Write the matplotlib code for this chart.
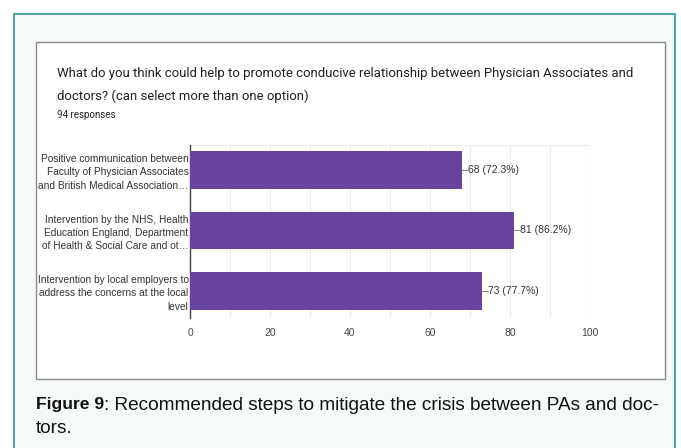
import matplotlib
matplotlib.use("Agg")
import matplotlib.pyplot as plt
from matplotlib.patches import Rectangle

categories = [
    "Positive communication between\nFaculty of Physician Associates\nand British Medical Association\u2026",
    "Intervention by the NHS, Health\nEducation England, Department\nof Health & Social Care and ot\u2026",
    "Intervention by local employers to\naddress the concerns at the local\nlevel",
]
counts = [68, 81, 73]
percents = ["72.3%", "86.2%", "77.7%"]
xticks = [0, 20, 40, 60, 80, 100]

W, H = 681, 448
fig = plt.figure(figsize=(W / 100, H / 100), dpi=100)
fig.patch.set_facecolor("white")

def px(x, y):
    return x / W, 1 - y / H

# outer teal frame
fig.patches.append(Rectangle((14 / W, -0.05), (675 - 14) / W, 1 - 14 / H + 0.05,
                             transform=fig.transFigure, facecolor="#f6fafa",
                             edgecolor="#3a9e9a", linewidth=1.3, zorder=0))
# inner white box
fig.patches.append(Rectangle((36 / W, 1 - 379 / H), (665 - 36) / W, (379 - 42) / H,
                             transform=fig.transFigure, facecolor="white",
                             edgecolor="#8a8a8a", linewidth=1.0, zorder=0.5))

fig.text(*px(57, 73), "What do you think could help to promote conducive relationship between Physician Associates and",
         fontsize=9.45, family="Roboto", color="#212121", va="center")
fig.text(*px(57, 96), "doctors? (can select more than one option)",
         fontsize=9.45, family="Roboto", color="#212121", va="center")
fig.text(*px(57, 115), "94 responses", fontsize=7, family="Roboto", color="#212121", va="center")

ax = fig.add_axes([190 / W, 1 - 318 / H, 400 / W, (318 - 145) / H])
ax.set_zorder(2)
ax.set_facecolor("none")
ypos = list(range(len(categories)))
ax.barh(ypos, counts, height=0.62, color="#6644a0", zorder=3)
ax.set_xlim(0, 100)
ax.set_ylim(2.45, -0.41)
ax.set_xticks(xticks)
ax.set_xticks(range(0, 101, 10), minor=True)
ax.set_xticklabels([str(t) for t in xticks], fontsize=7.5, family="Liberation Sans", color="#444444")
ax.tick_params(axis="x", length=0, pad=7, which="both")
ax.grid(axis="x", which="both", color="#ebebeb", linewidth=0.8, zorder=0)
ax.set_yticks(ypos)
ax.set_yticklabels(categories, fontsize=7.3, family="Liberation Sans", color="#333333", linespacing=1.4)
ax.tick_params(axis="y", length=0, pad=1)
for s in ["top", "right", "bottom"]:
    ax.spines[s].set_visible(False)
ax.spines["left"].set_color("#444444")
ax.spines["left"].set_linewidth(1.0)
ax.axhline(-0.41, color="#ebebeb", linewidth=0.8, zorder=0)

for y, c, p in zip(ypos, counts, percents):
    ax.plot([c, c + 1.6], [y, y], color="#888888", linewidth=0.7, zorder=4, clip_on=False)
    ax.text(c + 1.6, y, f"{c} ({p})", fontsize=7.5, family="Liberation Sans",
            color="#333333", va="center", ha="left")

t = fig.text(*px(36, 405), "Figure 9", fontsize=12.6, family="Liberation Sans",
             weight="bold", color="#111111", va="center")
fig.canvas.draw()
bb = t.get_window_extent()
x_end = bb.x1 / W
fig.text(x_end, 1 - 405 / H, ": Recommended steps to mitigate the crisis between PAs and doc-",
         fontsize=13.7, family="Liberation Sans", color="#111111", va="center")
fig.text(*px(36, 428), "tors.", fontsize=13.7, family="Liberation Sans", color="#111111", va="center")

fig.savefig("out.png", dpi=100, facecolor=fig.get_facecolor())
